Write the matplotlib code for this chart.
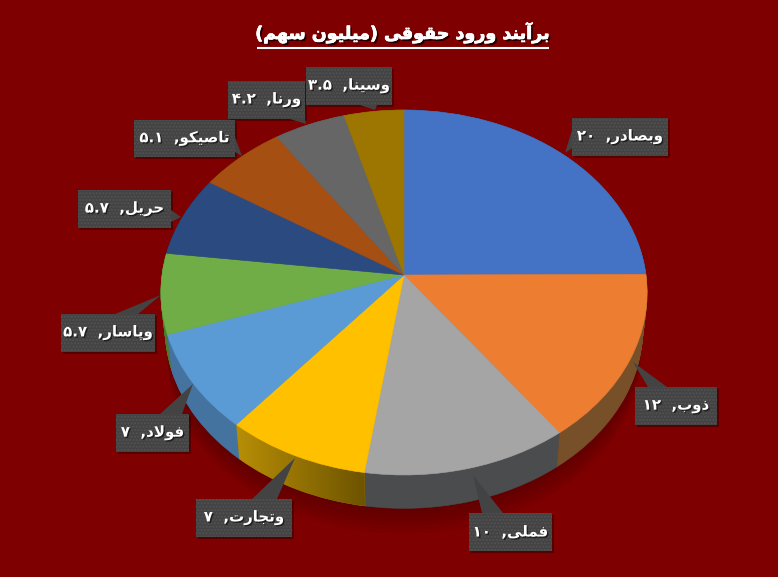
import numpy as np
import matplotlib
matplotlib.use("Agg")
import matplotlib.pyplot as plt
import matplotlib.patheffects as pe
from matplotlib.patches import Polygon, Rectangle
from matplotlib.colors import to_rgb
from matplotlib.transforms import Transform

# ---- data ----
names = ["وبصادر", "ذوب", "فملی", "وتجارت", "فولاد", "وپاسار", "حریل", "تاصیکو", "ورنا", "وسینا"]
values = [20, 12, 10, 7, 7, 5.7, 5.7, 5.1, 4.2, 3.5]
title = "برآیند ورود حقوقی (میلیون سهم)"

# ---- styles ----
top_colors = ["#4472C4", "#ED7D31", "#A5A5A5", "#FFC000", "#5B9BD5", "#70AD47",
              "#2B4A80", "#A54F12", "#666666", "#9C7600"]
side_colors = ["#30508A", "#77502A", "#4A4C4E", "#9A7605", "#44739F", "#4D7A30",
               "#1E3458", "#70360C", "#474747", "#6E5300"]
BG = "#7F0000"
BOX = "#434343"
GOLD_LEFT, GOLD_RIGHT = "#B88E06", "#6E5400"

# ---- layout (pixels): box x0, y0, x1, y1, then pointer base and tip ----
boxes = [(572, 118, 668, 156), (635, 387, 717, 425), (469, 513, 552, 551), (196, 499, 292, 537),
         (116, 414, 189, 452), (61, 314, 155, 352), (78, 190, 171, 228), (134, 120, 235, 157),
         (228, 81, 305, 119), (306, 67, 392, 105)]
pointers = [((572, 130), (572, 148), (565, 153)), ((648, 387), (667, 387), (633, 362)),
            ((482, 513), (503, 513), (473, 475)), ((252, 499), (277, 499), (295, 458)),
            ((160, 414), (182, 414), (193, 384)), ((115, 314), (138, 314), (161, 295)),
            ((171, 210), (171, 222), (181, 217)), ((235, 137), (235, 152), (242, 156)),
            ((290, 119), (305, 119), (306, 124)), ((360, 105), (377, 105), (375, 110))]

# ---- Persian shaping (matplotlib draws glyphs without joining) ----
FORMS = {"ب": "\uFE8F\uFE90\uFE91\uFE92", "پ": "\uFB56\uFB57\uFB58\uFB59", "ت": "\uFE95\uFE96\uFE97\uFE98",
         "ج": "\uFE9D\uFE9E\uFE9F\uFEA0", "ح": "\uFEA1\uFEA2\uFEA3\uFEA4", "س": "\uFEB1\uFEB2\uFEB3\uFEB4",
         "ص": "\uFEB9\uFEBA\uFEBB\uFEBC", "ف": "\uFED1\uFED2\uFED3\uFED4", "ق": "\uFED5\uFED6\uFED7\uFED8",
         "ک": "\uFB8E\uFB8F\uFB90\uFB91", "ل": "\uFEDD\uFEDE\uFEDF\uFEE0", "م": "\uFEE1\uFEE2\uFEE3\uFEE4",
         "ن": "\uFEE5\uFEE6\uFEE7\uFEE8", "ه": "\uFEE9\uFEEA\uFEEB\uFEEC", "ی": "\uFBFC\uFBFD\uFBFE\uFBFF",
         "ا": "\uFE8D\uFE8E", "آ": "\uFE81\uFE82", "د": "\uFEA9\uFEAA", "ذ": "\uFEAB\uFEAC",
         "ر": "\uFEAD\uFEAE", "و": "\uFEED\uFEEE"}


def shape(s):
    out = []
    i = 0
    while i < len(s):
        c = s[i]
        if c not in FORMS:
            out.append({"(": ")", ")": "("}.get(c, c))
            i += 1
            continue
        prev = s[i - 1] if i else ""
        joined_prev = prev in FORMS and len(FORMS[prev]) == 4
        if c == "ل" and s[i + 1:i + 2] == "ا":
            out.append("\uFEFC" if joined_prev else "\uFEFB")
            i += 2
            continue
        nxt = s[i + 1:i + 2]
        joins_next = len(FORMS[c]) == 4 and nxt in FORMS
        idx = (1 if joined_prev else 0) if not joins_next else (3 if joined_prev else 2)
        out.append(FORMS[c][idx])
        i += 1
    return "".join(reversed(out))


def fa_num(v):
    return f"{v:g}".translate(str.maketrans("0123456789", "۰۱۲۳۴۵۶۷۸۹"))


class Tilt(Transform):
    """Camera tilt of the pie plane onto figure pixels."""
    input_dims = output_dims = 2

    def __init__(self, scale=1.0, dy=0.0):
        super().__init__()
        self.scale, self.dy = scale, dy

    def transform_non_affine(self, xy):
        xy = np.asarray(xy, float)
        d = 1 + 0.0959 * xy[:, 1]
        return np.column_stack((404 + self.scale * 242 * xy[:, 0] / d,
                                275 + self.dy - self.scale * 180.8 * xy[:, 1] / d))


fig = plt.figure(figsize=(7.78, 5.77), dpi=100, facecolor=BG)
ax = fig.add_axes([0, 0, 1, 1])


def layer(colors, tilt, z, alpha=None):
    wedges, _ = ax.pie(values, colors=colors, startangle=90, counterclock=False,
                       wedgeprops=dict(linewidth=0.4 if alpha is None else 0, alpha=alpha))
    for w in wedges:
        w.set_edgecolor(w.get_facecolor())
        w.set_transform(tilt + ax.transData)
        w.set_zorder(z)
        w.set_clip_on(False)


for k, dy in enumerate(np.arange(64, 38, -4)):
    layer(["black"] * len(values), Tilt(0.975, dy), 1, alpha=0.035)
for k, t in enumerate(np.linspace(1, 0, 38)):
    layer(side_colors, Tilt(1 - 0.018 * t, 37 * t), 2 + k * 0.01)

# shaded outer wall of the fourth slice (left bright, right dark)
cum = np.cumsum(values) / np.sum(values) * 2 * np.pi
ang = np.linspace(cum[2], cum[3], 40)
arc = np.column_stack((np.sin(ang), np.cos(ang)))
wall = np.vstack((Tilt().transform(arc), Tilt(1 - 0.018, 37).transform(arc)[::-1]))
left, right = wall[:, 0].min(), wall[:, 0].max()
ramp = np.linspace(0, 1, 64)[:, None]
grad = (1 - ramp) * np.array(to_rgb(GOLD_LEFT)) + ramp * np.array(to_rgb(GOLD_RIGHT))
im = ax.imshow(grad[None, :, :], extent=(left, right, wall[:, 1].max(), wall[:, 1].min()),
               zorder=2.9, aspect="auto", interpolation="bilinear")
im.set_clip_path(Polygon(wall, transform=ax.transData))

layer(top_colors, Tilt(), 3)

ax.set_aspect("auto")
ax.set_xlim(0, 778)
ax.set_ylim(577, 0)
ax.set_axis_off()

txt_fx = [pe.withSimplePatchShadow(offset=(1, -1), shadow_rgbFace="black", alpha=0.55)]
title_fx = [pe.withSimplePatchShadow(offset=(1.5, -1.5), shadow_rgbFace="black", alpha=0.7),
            pe.withStroke(linewidth=0.5, foreground="white")]
for name, v, (x0, y0, x1, y1), (a, b, tip) in zip(names, values, boxes, pointers):
    ax.add_patch(Rectangle((x0 + 2, y0 + 2), x1 - x0, y1 - y0, fc="black", alpha=0.3, lw=0, zorder=4))
    ax.add_patch(Polygon([a, b, tip], fc=BOX, lw=0, zorder=5, clip_on=False))
    ax.add_patch(Rectangle((x0, y0), x1 - x0, y1 - y0, fc=BOX, ec="#525252", hatch=".....", lw=0, zorder=5))
    ax.text((x0 + x1) / 2, (y0 + y1) / 2, fa_num(v) + "  ," + shape(name), color="white",
            family="DejaVu Sans", weight="bold", fontsize=10.8, ha="center", va="center",
            zorder=6, path_effects=txt_fx)

ax.text(403, 33, shape(title), color="white", family="DejaVu Sans", weight="bold", fontsize=12.6,
        ha="center", va="center", zorder=6, path_effects=title_fx)
ax.plot([257, 549], [48, 48], color="white", lw=1.5, zorder=6, solid_capstyle="butt")

fig.savefig("out.png", dpi=100, facecolor=BG)
